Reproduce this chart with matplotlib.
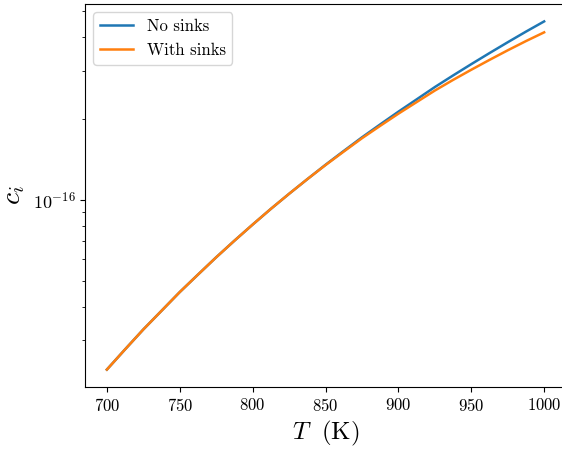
import matplotlib
matplotlib.use("Agg")
import matplotlib.pyplot as plt

# Temperature (K) and concentration
T = [700, 712.5, 725, 737.5, 750, 762.5, 775, 787.5, 800, 812.5, 825, 837.5,
     850, 862.5, 875, 887.5, 900, 912.5, 925, 937.5, 950, 962.5, 975, 987.5, 1000]
c_no_sinks = [2.334e-17, 2.775e-17, 3.29e-17, 3.86e-17, 4.53e-17, 5.26e-17,
              6.10e-17, 7.03e-17, 8.07e-17, 9.23e-17, 1.05e-16, 1.19e-16,
              1.346e-16, 1.515e-16, 1.702e-16, 1.901e-16, 2.120e-16, 2.355e-16,
              2.617e-16, 2.89e-16, 3.184e-16, 3.50e-16, 3.84e-16, 4.205e-16, 4.59e-16]
c_with_sinks = [2.334e-17, 2.775e-17, 3.29e-17, 3.86e-17, 4.53e-17, 5.26e-17,
                6.10e-17, 7.03e-17, 8.07e-17, 9.23e-17, 1.05e-16, 1.19e-16,
                1.3425e-16, 1.507e-16, 1.689e-16, 1.878e-16, 2.084e-16, 2.301e-16,
                2.540e-16, 2.782e-16, 3.035e-16, 3.302e-16, 3.584e-16, 3.878e-16, 4.18e-16]

plt.rcParams.update({
    'font.family': 'serif',
    'font.serif': ['cmr10'],
    'mathtext.fontset': 'cm',
    'axes.formatter.use_mathtext': True,
    'axes.unicode_minus': False,
    'xtick.labelsize': 12,
    'ytick.labelsize': 13,
})

fig = plt.figure(figsize=(5.62, 4.51), dpi=100)
ax = fig.add_axes([85 / 562, 1 - 387 / 451, 481 / 562, 383 / 451])

ax.plot(T, c_no_sinks, label='No sinks', color='#1f77b4', linewidth=1.8)
ax.plot(T, c_with_sinks, label='With sinks', color='#ff7f0e', linewidth=1.8)

ax.set_yscale('log')
ax.set_xlabel(r'$T\ \ \mathrm{(K)}$', fontsize=18)
ax.set_ylabel(r'$c_i$', fontsize=20)
ax.legend(loc='upper left', fontsize=12)

fig.savefig('out.png', dpi=100)
